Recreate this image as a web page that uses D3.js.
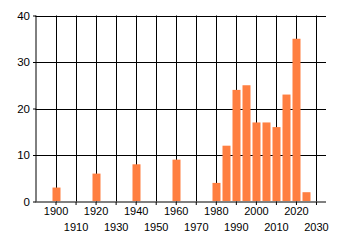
<!DOCTYPE html>
<html><head><meta charset="utf-8">
<script src="https://cdn.jsdelivr.net/npm/d3@7"></script>
<style>body{margin:0;background:#fff}svg{display:block}text{font-family:"Liberation Sans",Arial,sans-serif;font-size:11px;fill:#000}</style>
</head><body>
<script>
const years = [1900,1920,1940,1960,1980,1985,1990,1995,2000,2005,2010,2015,2020,2025];
const counts = [3,6,8,9,4,12,24,25,17,17,16,23,35,2];
const xTicks = [1900,1910,1920,1930,1940,1950,1960,1970,1980,1990,2000,2010,2020,2030];
const yTicks = [0,10,20,30,40];
const barColor = "#ff7f41";

const W=340,H=245;
const svg=d3.select("body").append("svg").attr("width",W).attr("height",H);
const x=d3.scaleLinear().domain([1890,2035]).range([35.5,326]);
const y=d3.scaleLinear().domain([0,40]).range([201.5,15.5]);

// gridlines
svg.append("g").selectAll("line").data(yTicks.filter(d=>d>0)).join("line")
  .attr("x1",x(1890)).attr("x2",x(2035)).attr("y1",d=>Math.round(y(d))+0.5).attr("y2",d=>Math.round(y(d))+0.5)
  .attr("stroke","#000").attr("stroke-width",1);
svg.append("g").selectAll("line").data(xTicks).join("line")
  .attr("x1",d=>Math.round(x(d))+0.5).attr("x2",d=>Math.round(x(d))+0.5).attr("y1",y(40)).attr("y2",y(0))
  .attr("stroke","#000").attr("stroke-width",1);

// bars
svg.append("g").selectAll("rect").data(years.map((d,i)=>({yr:d,v:counts[i]}))).join("rect")
  .attr("x",d=>Math.round(x(d.yr)-4)+0.5).attr("width",8)
  .attr("y",d=>y(d.v)).attr("height",d=>y(0)-y(d.v)-0.5)
  .attr("fill",barColor);

// axes
const yAxis=d3.axisLeft(y).tickValues(yTicks).tickSize(3).tickPadding(3).tickFormat(d3.format("d"));
const gy=svg.append("g").attr("transform",`translate(${Math.round(x(1890))},0)`).call(yAxis);
gy.selectAll("line").attr("stroke","#000");
gy.select(".domain").attr("stroke","#000").attr("d",`M0,${y(40)}V${y(0)}`);
gy.selectAll("text").style("font-size","11.5px");

const xAxis=d3.axisBottom(x).tickValues(xTicks).tickSize(3).tickPadding(3).tickFormat(d3.format("d"));
const gx=svg.append("g").attr("transform",`translate(0,${Math.round(y(0))})`).call(xAxis);
gx.selectAll("line").attr("stroke","#000");
gx.select(".domain").attr("stroke","#000").attr("d",`M${x(1890)},0H${x(2035)}`);
gx.selectAll("text").attr("dy",null).attr("y",d=>((d/10)%2===0)?13:29);
</script>
</body></html>
